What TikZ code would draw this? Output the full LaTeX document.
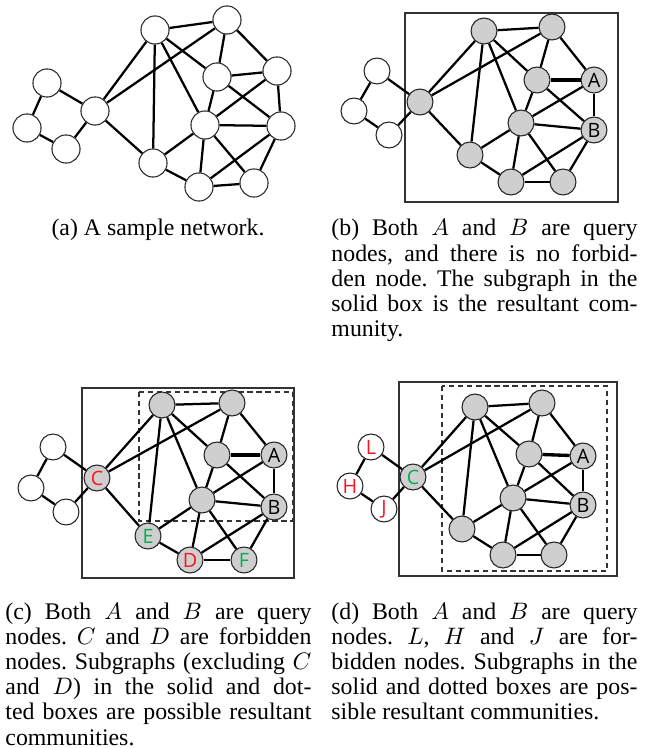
\documentclass[tikz,border=0pt]{standalone}
\usepackage{fontspec}
\setmainfont{Liberation Serif}
\newfontfamily\lblfont{Open Sans}
\usepackage{tikz}
\usetikzlibrary{positioning}

\definecolor{gfill}{RGB}{208,207,208}
\definecolor{fred}{RGB}{250,20,30}
\definecolor{fgreen}{RGB}{0,176,80}

% edges of the sample network, #1 = panel prefix, #2 = width of the n3--n4 edge
\newcommand{\netedges}[2]{%
  \foreach \u/\v in {p1/hub,p1/p2,p2/p3,p3/hub,hub/n1,hub/n2,hub/n7,
      n1/n2,n1/n7,n1/n3,n1/n5,n2/n3,n2/n4,n3/n5,n3/n6,n4/n5,n4/n6,
      n5/n6,n5/n7,n5/n8,n5/n9,n6/n8,n6/n9,n7/n8,n8/n9}
    \draw[edge] (#1\u) -- (#1\v);
  \draw[edge, line width=#2] (#1n3) -- (#1n4);
}

\begin{document}
\frenchspacing
\begin{tikzpicture}[x=0.42pt, y=-0.42pt,
    vtx/.style={circle, draw=black!85, line width=0.45pt, fill=white, inner sep=0pt,
      font=\lblfont\fontsize{8.3}{9}\selectfont},
    big/.style={vtx, minimum size=11.8pt},
    sml/.style={vtx, minimum size=10.9pt},
    gv/.style={sml, fill=gfill},
    edge/.style={line width=0.95pt},
    sbox/.style={draw=black!80, line width=0.5pt},
    dbox/.style={draw=black!80, line width=0.5pt, dash pattern=on 2.2pt off 1.6pt},
    captxt/.style={anchor=north west, inner sep=0pt, text width=128.5pt, align=justify,
      font=\fontsize{10}{10.6}\selectfont}]
  \useasboundingbox (0,0) rectangle (644,748);

  % (a) sample network
  \foreach \n/\x/\y in {p1/47/83, p2/27/128, p3/66/149, hub/95/111,
      n1/155/30, n2/227/20, n3/217/77, n4/277/71, n5/205/125,
      n6/281/126, n7/153/163, n8/199/187, n9/254/183}
    \node[big] (a\n) at (\x,\y) {};
  \netedges{a}{0.95pt}
  \node[anchor=north, inner sep=0pt, font=\fontsize{10}{10.6}\selectfont] (capa) at (158,219) {(a) A sample network.};

  % (b) no forbidden node
  \draw[sbox] (405,13) rectangle (618,202);
  \foreach \n/\x/\y in {p1/377/71, p2/354/111, p3/389/135}
    \node[sml] (b\n) at (\x,\y) {};
  \foreach \n/\x/\y in {hub/420/102, n1/484/31, n2/552/27, n3/537/80,
      n5/521/123, n7/470/155, n8/511/182, n9/563/182}
    \node[gv] (b\n) at (\x,\y) {};
  \node[gv] (bn4) at (594,80) {A};
  \node[gv] (bn6) at (594,130) {B};
  \netedges{b}{1.4pt}
  \node[captxt] (capb) at (331,219) {(b) Both $A$ and $B$ are query\linebreak
    nodes, and there is no forbid-\linebreak
    den node. The subgraph in the\linebreak
    solid box is the resultant com-\linebreak
    munity.};

  % (c) C and D forbidden
  \draw[sbox] (82,388) rectangle (294,578);
  \draw[dbox] (139,392) rectangle (293,521);
  \foreach \n/\x/\y in {p1/53/447, p2/31/488, p3/66/512}
    \node[sml] (c\n) at (\x,\y) {};
  \foreach \n/\x/\y in {n1/162/405, n2/232/403, n3/217/455, n5/202/500}
    \node[gv] (c\n) at (\x,\y) {};
  \node[gv, text=fred] (chub) at (97,478) {C};
  \node[gv] (cn4) at (274,455) {A};
  \node[gv] (cn6) at (274,507) {B};
  \node[gv, text=fgreen] (cn7) at (148,536) {E};
  \node[gv, text=fred] (cn8) at (190,560) {D};
  \node[gv, text=fgreen] (cn9) at (244,560) {F};
  \netedges{c}{1.4pt}
  \node[captxt] (capc) at (5,602) {(c) Both $A$ and $B$ are query\linebreak
    nodes. $C$ and $D$ are forbidden\linebreak
    nodes. Subgraphs (excluding $C$\linebreak
    and $D$) in the solid and dot-\linebreak
    ted boxes are possible resultant\linebreak
    communities.};

  % (d) L, H and J forbidden
  \draw[sbox] (399,382) rectangle (617,576);
  \draw[dbox] (442,386) rectangle (607,571);
  \node[sml, text=fred] (dp1) at (371,447) {L};
  \node[sml, text=fred] (dp2) at (350,486) {H};
  \node[sml, text=fred] (dp3) at (384,509) {J};
  \node[gv, text=fgreen] (dhub) at (413,477) {C};
  \foreach \n/\x/\y in {n1/475/407, n2/542/403, n3/529/454, n5/513/498,
      n7/462/529, n8/503/555, n9/554/555}
    \node[gv] (d\n) at (\x,\y) {};
  \node[gv] (dn4) at (583,456) {A};
  \node[gv] (dn6) at (583,505) {B};
  \netedges{d}{1.4pt}
  \node[captxt] (capd) at (331,602) {(d) Both $A$ and $B$ are query\linebreak
    nodes. $L$, $H$ and $J$ are for-\linebreak
    bidden nodes. Subgraphs in the\linebreak
    solid and dotted boxes are pos-\linebreak
    sible resultant communities.};
\end{tikzpicture}
\end{document}
